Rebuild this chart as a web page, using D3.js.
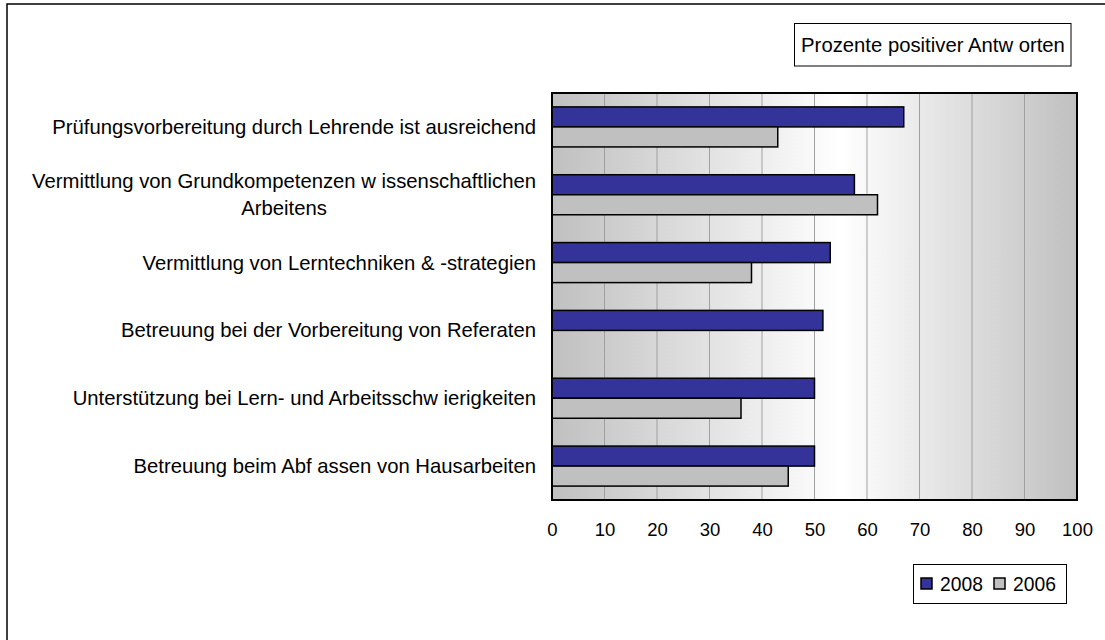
<!DOCTYPE html>
<html><head><meta charset="utf-8">
<script src="https://cdn.jsdelivr.net/npm/d3@7"></script>
<style>body{margin:0;background:#fff}svg{display:block}text{font-family:"Liberation Sans",Arial,sans-serif;fill:#000}</style>
</head><body>
<script>
const categories = [
  ["Prüfungsvorbereitung durch Lehrende ist ausreichend"],
  ["Vermittlung von Grundkompetenzen w issenschaftlichen", "Arbeitens"],
  ["Vermittlung von Lerntechniken & -strategien"],
  ["Betreuung bei der Vorbereitung von Referaten"],
  ["Unterstützung bei Lern- und Arbeitsschw ierigkeiten"],
  ["Betreuung beim Abf assen von Hausarbeiten"]
];
const series = ["2008", "2006"];
const values2008 = [67, 57.6, 53, 51.6, 50, 50];
const values2006 = [43, 62, 38, null, 36, 45];
const xTicks = [0,10,20,30,40,50,60,70,80,90,100];
const colors = ["#333399", "#c0c0c0"];
const titleText = "Prozente positiver Antw orten";

const W = 1105, H = 640;
const svg = d3.select("body").append("svg").attr("width", W).attr("height", H);

// outer frame
svg.append("rect").attr("x",7).attr("y",4).attr("width",1110).attr("height",700)
  .attr("fill","#fff").attr("stroke","#000").attr("stroke-width",1.5);

const plot = {l:552, r:1077, t:93, b:500};
const x = d3.scaleLinear().domain([0,100]).range([plot.l, plot.r]);
const y = d3.scaleBand().domain(d3.range(categories.length)).range([plot.t, plot.b])
  .paddingInner(0.41).paddingOuter(0.205);
const ys = d3.scaleBand().domain(series).range([0, y.bandwidth()]);

const defs = svg.append("defs");
const grad = defs.append("linearGradient").attr("id","bg").attr("x1","0").attr("x2","1").attr("y1","0").attr("y2","0");
grad.append("stop").attr("offset","0").attr("stop-color","#c0c0c0");
grad.append("stop").attr("offset","0.55").attr("stop-color","#ffffff");
grad.append("stop").attr("offset","1").attr("stop-color","#c0c0c0");

svg.append("rect").attr("x",plot.l).attr("y",plot.t).attr("width",plot.r-plot.l).attr("height",plot.b-plot.t)
  .attr("fill","url(#bg)");

// gridlines
svg.append("g").selectAll("line").data(xTicks.slice(1,-1)).join("line")
  .attr("x1",d=>x(d)).attr("x2",d=>x(d)).attr("y1",plot.t).attr("y2",plot.b)
  .attr("stroke","#a0a0a0").attr("stroke-width",1);

// bars
const data = [values2008, values2006];
series.forEach((s,si)=>{
  svg.append("g").selectAll("rect").data(data[si].map((v,i)=>({v,i})).filter(d=>d.v!=null)).join("rect")
    .attr("x",x(0)).attr("y",d=>y(d.i)+ys(s))
    .attr("width",d=>x(d.v)-x(0)).attr("height",ys.bandwidth())
    .attr("fill",colors[si]).attr("stroke","#000").attr("stroke-width",1.5);
});

// plot border
svg.append("rect").attr("x",plot.l).attr("y",plot.t).attr("width",plot.r-plot.l).attr("height",plot.b-plot.t)
  .attr("fill","none").attr("stroke","#000").attr("stroke-width",2);

// x axis labels
const xAxis = d3.axisBottom(x).tickValues(xTicks).tickSize(0).tickPadding(0).tickFormat(d3.format("d"));
const xg = svg.append("g").attr("transform",`translate(0,${plot.b+23})`).call(xAxis);
xg.select(".domain").remove();
xg.selectAll("text").attr("font-size",18.5).attr("font-family","Liberation Sans, Arial, sans-serif").attr("fill","#000");

// category labels
const fs = 20.3, lh = 27, labelRight = 536;
const lg = svg.append("g");
categories.forEach((lines,i)=>{
  const cy = y(i) + y.bandwidth()/2;
  const t = lg.append("text").attr("font-size",fs).attr("dominant-baseline","central");
  if (lines.length===1){
    t.attr("x",labelRight).attr("y",cy).attr("text-anchor","end").text(lines[0]);
  } else {
    const tmp = lg.append("text").attr("font-size",fs).text(lines[0]);
    const w = tmp.node().getComputedTextLength(); tmp.remove();
    const cx = labelRight - w/2;
    t.attr("text-anchor","middle");
    lines.forEach((ln,k)=>{
      t.append("tspan").attr("x",cx).attr("y",cy + (k-(lines.length-1)/2)*lh).text(ln);
    });
  }
});

// title box
svg.append("rect").attr("x",794.5).attr("y",23.5).attr("width",276.5).attr("height",42.5)
  .attr("fill","#fff").attr("stroke","#000").attr("stroke-width",1);
svg.append("text").attr("x",933).attr("y",45).attr("text-anchor","middle").attr("dominant-baseline","central")
  .attr("font-size",20.3).text(titleText);

// legend
const leg = svg.append("g");
leg.append("rect").attr("x",913.5).attr("y",564.5).attr("width",153).attr("height",39)
  .attr("fill","#fff").attr("stroke","#000").attr("stroke-width",1);
const legX = [921, 994];
series.forEach((s,si)=>{
  leg.append("rect").attr("x",legX[si]).attr("y",578).attr("width",11).attr("height",11)
    .attr("fill",colors[si]).attr("stroke","#000").attr("stroke-width",1.5);
  leg.append("text").attr("x",legX[si]+19).attr("y",584).attr("dominant-baseline","central")
    .attr("font-size",19.3).text(s);
});
</script>
</body></html>
